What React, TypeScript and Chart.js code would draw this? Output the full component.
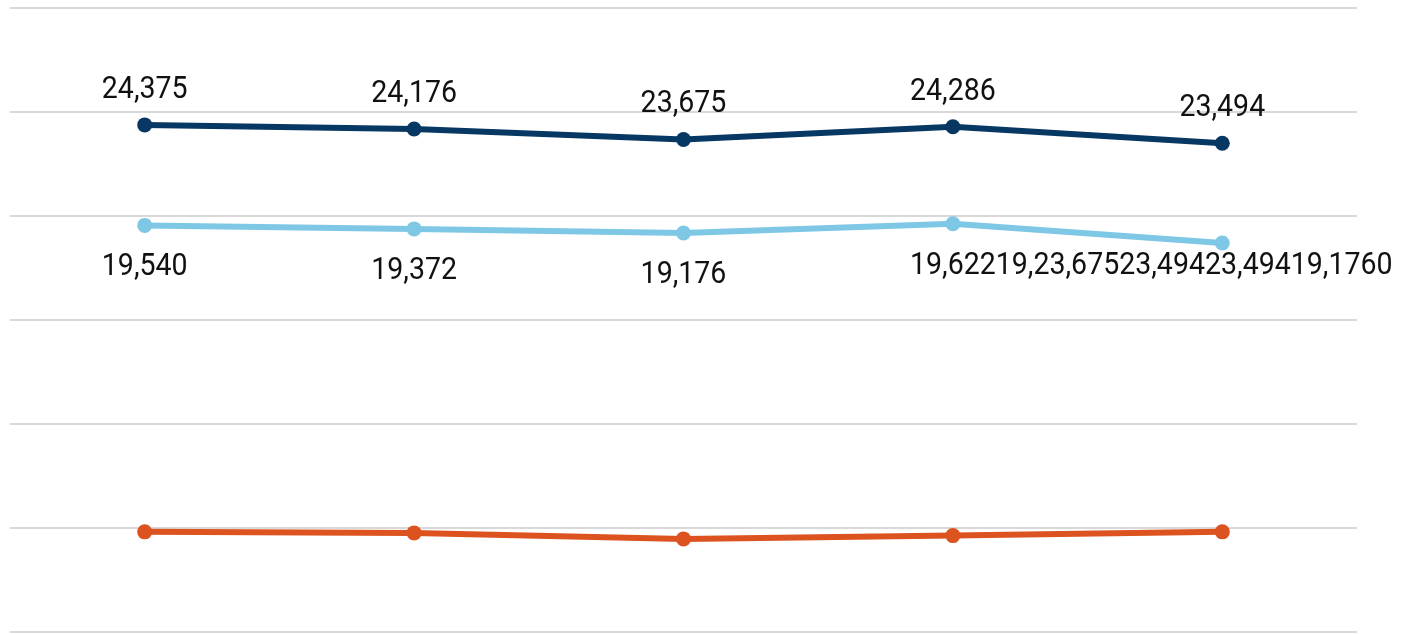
import React, { useEffect, useRef } from "react";
import { Chart, registerables } from "chart.js";

Chart.register(...registerables);

const categories = ["A", "B", "C", "D", "E"];
const seriesTop = [24375, 24176, 23675, 24286, 23494];
const seriesMid = [19540, 19372, 19176, 19622, 18690];
const seriesLow = [4795, 4745, 4455, 4615, 4795];
const labelsTop = ["24,375", "24,176", "23,675", "24,286", "23,494"];
const labelsMid = ["19,540", "19,372", "19,176", "19,62219,23,67523,49423,49419,1760", ""];
const yTicks = [0, 5000, 10000, 15000, 20000, 25000, 30000];

const NAVY = "#073763";
const LIGHT = "#7ec8e5";
const ORANGE = "#dc5320";
const TEXT_SCALE_X = 0.92;

const labelPlugin = {
  id: "pointLabels",
  afterDatasetsDraw(chart: any) {
    const ctx = chart.ctx;
    ctx.save();
    ctx.font = "31px Roboto";
    ctx.fillStyle = "#111111";
    ctx.textBaseline = "alphabetic";
    ctx.textAlign = "left";
    chart.data.datasets.forEach((ds: any, di: number) => {
      const labels: string[] | undefined = ds.pointLabels;
      if (!labels) return;
      const meta = chart.getDatasetMeta(di);
      meta.data.forEach((pt: any, i: number) => {
        const text = labels[i];
        if (!text) return;
        const w = ctx.measureText(text.slice(0, 6)).width * TEXT_SCALE_X;
        ctx.save();
        ctx.translate(pt.x - w / 2, pt.y + ds.labelOffset);
        ctx.scale(TEXT_SCALE_X, 1);
        ctx.fillText(text, 0, 0);
        ctx.restore();
      });
    });
    ctx.restore();
  },
};

export default function App() {
  const ref = useRef<HTMLCanvasElement | null>(null);
  useEffect(() => {
    if (!ref.current) return;
    const common = { borderWidth: 6, pointRadius: 7.5, pointBorderWidth: 0 };
    const chart = new Chart(ref.current, {
      type: "line",
      data: {
        labels: categories,
        datasets: [
          { ...common, data: seriesTop, borderColor: NAVY, backgroundColor: NAVY, pointLabels: labelsTop, labelOffset: -27 } as any,
          { ...common, data: seriesMid, borderColor: LIGHT, backgroundColor: LIGHT, pointLabels: labelsMid, labelOffset: 50 } as any,
          { ...common, data: seriesLow, borderColor: ORANGE, backgroundColor: ORANGE } as any,
        ],
      },
      options: {
        animation: false,
        responsive: false,
        events: [],
        layout: { padding: { left: 10, right: 63, top: 8, bottom: 2 } },
        plugins: { legend: { display: false }, tooltip: { enabled: false } },
        scales: {
          x: { display: false, offset: true },
          y: {
            min: 0,
            max: 30000,
            afterBuildTicks: (scale: any) => {
              scale.ticks = yTicks.map((v) => ({ value: v }));
            },
            ticks: { display: false },
            border: { display: false },
            grid: { color: "#d9d9d9", lineWidth: 2, drawTicks: false },
          },
        },
      },
      plugins: [labelPlugin],
    });
    return () => chart.destroy();
  }, []);
  return (
    <div style={{ position: "absolute", left: 0, top: 0, width: 1420, height: 634, overflow: "hidden", background: "#fff" }}>
      <canvas ref={ref} width={1420} height={639} style={{ display: "block" }} />
    </div>
  );
}
